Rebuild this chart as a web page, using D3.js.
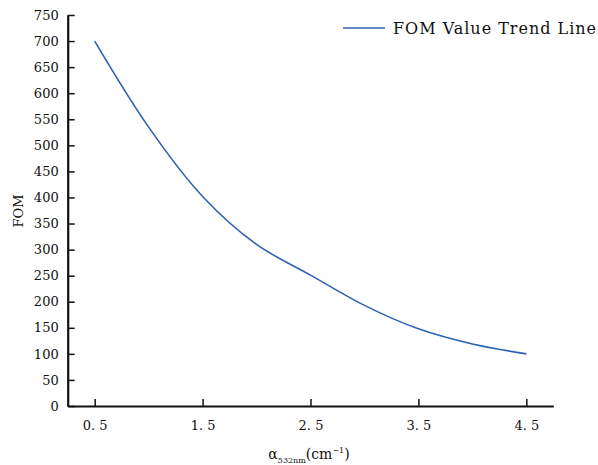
<!DOCTYPE html>
<html>
<head>
<meta charset="utf-8">
<script src="https://cdn.jsdelivr.net/npm/d3@7"></script>
<style>
  body { margin: 0; background: #fff; }
  text { font-family: "DejaVu Serif", "Liberation Serif", serif; fill: #111; }
</style>
</head>
<body>
<div id="wrapper"></div>
<script>
// values
const alphaValues = [0.5, 1.0, 1.5, 2.0, 2.5, 3.0, 3.5, 4.0, 4.5]
const fomValues   = [700, 535, 402, 310, 251, 193, 148, 119, 100]
const xTickValues = [0.5, 1.5, 2.5, 3.5, 4.5]
const xTickLabels = ["0. 5", "1. 5", "2. 5", "3. 5", "4. 5"]
const yTickValues = d3.range(0, 751, 50)
const seriesName = "FOM Value Trend Line"

const width = 598
const height = 465

const svg = d3.select("#wrapper")
  .append("svg")
  .attr("width", width)
  .attr("height", height)

const x = d3.scaleLinear().domain([0.25, 4.75]).range([67.7, 553.3])
const y = d3.scaleLinear().domain([0, 750]).range([406, 15])

// x axis, ticks point inward
const xAxis = svg.append("g")
  .attr("transform", `translate(0,${y(0)})`)
  .call(d3.axisBottom(x)
    .tickValues(xTickValues)
    .tickSize(-7)
    .tickSizeOuter(0)
    .tickPadding(15)
    .tickFormat((d, i) => xTickLabels[i]))
xAxis.select(".domain").attr("stroke", "#111").attr("stroke-width", 2.2)
xAxis.selectAll(".tick line").attr("stroke", "#111").attr("stroke-width", 1.5)
xAxis.selectAll(".tick text").attr("font-size", 13).attr("font-family", "DejaVu Serif")

// y axis
const yAxis = svg.append("g")
  .attr("transform", `translate(${x(0.25)},0)`)
  .call(d3.axisLeft(y)
    .tickValues(yTickValues)
    .tickSize(-7)
    .tickSizeOuter(0)
    .tickPadding(9))
yAxis.select(".domain").attr("stroke", "#111").attr("stroke-width", 2.2)
yAxis.selectAll(".tick line").attr("stroke", "#111").attr("stroke-width", 1.5)
yAxis.selectAll(".tick text").attr("font-size", 13).attr("font-family", "DejaVu Serif")

// the curve
const data = alphaValues.map((a, i) => ({a: a, v: fomValues[i]}))
const line = d3.line()
  .x(d => x(d.a))
  .y(d => y(d.v))
  .curve(d3.curveCatmullRom)

svg.append("path")
  .datum(data)
  .attr("fill", "none")
  .attr("stroke", "#2e62b4")
  .attr("stroke-width", 1.6)
  .attr("d", line)

// axis titles
svg.append("text")
  .attr("transform", "translate(23,211) rotate(-90)")
  .attr("text-anchor", "middle")
  .attr("font-size", 13)
  .text("FOM")

const xTitle = svg.append("text")
  .attr("x", 309)
  .attr("y", 459)
  .attr("text-anchor", "middle")
  .attr("font-size", 14)
xTitle.append("tspan").text("α")
xTitle.append("tspan").attr("font-size", 8).attr("dy", 4).text("532nm")
xTitle.append("tspan").attr("dy", -4).text("(cm")
xTitle.append("tspan").attr("font-size", 8).attr("dy", -6).text("−1")
xTitle.append("tspan").attr("dy", 6).text(")")

// legend
svg.append("line")
  .attr("x1", 343).attr("x2", 385)
  .attr("y1", 28).attr("y2", 28)
  .attr("stroke", "#2e62b4")
  .attr("stroke-width", 1.6)

svg.append("text")
  .attr("x", 393)
  .attr("y", 34)
  .attr("font-size", 16)
  .attr("textLength", 203)
  .attr("lengthAdjust", "spacing")
  .text(seriesName)
</script>
</body>
</html>
